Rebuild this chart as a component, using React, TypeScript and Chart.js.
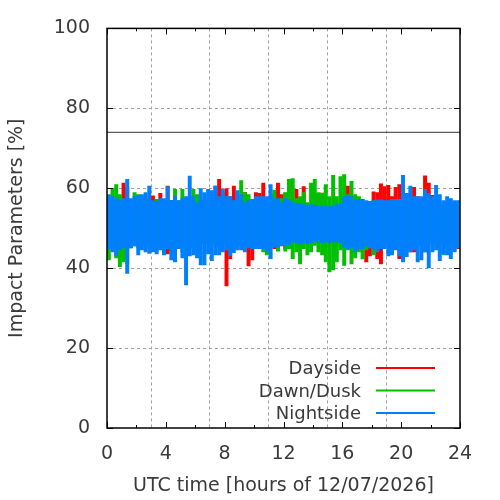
import React, { useEffect, useRef } from 'react';
import { Chart, registerables } from 'chart.js';

Chart.register(...registerables);

// 15-minute bins over the day; each bin keeps the min and max impact parameter seen
const binHours = 0.25;
const xTickStep = 2;
const yTickStep = 20;
const thresholdValue = 74;

const seriesNames = ['Dayside', 'Dawn/Dusk', 'Nightside'];
const seriesColours = ['#ff0000', '#00c000', '#0080ff'];

const daysideMax = [
  56, 56, 56, 56, 61.4, 60.3, 56, 56, 55.5, 56, 57.3, 56, 58.2, 57, 58.8, 57,
  60.6, 57, 56, 56, 56, 56, 56, 56, 56, 57, 57.3, 56, 57, 60.6, 62.3, 59,
  60, 58, 60.6, 56, 56, 59, 56, 56, 59, 58.8, 61.4, 57, 57, 58.5, 61.4, 58.5,
  58.9, 55.5, 55.5, 59.8, 55.5, 60.5, 55.5, 55.5, 58.5, 55.5, 58.9, 55.5, 55.5, 55.5, 55.5, 55.5,
  56, 60.6, 56, 56, 56, 56, 56, 56, 59.2, 59, 61.2, 60.5, 60.8, 58, 60.3, 61,
  58.9, 58.8, 57, 60.3, 58, 57.3, 63.2, 61.4, 58.3, 56, 56, 56, 56.5, 56, 56.5, 56,
];
const daysideMin = [
  46, 46, 46, 45, 42.5, 46.5, 45.8, 46, 45.8, 46.5, 46, 46, 46, 46, 46, 46,
  43.5, 44, 46, 46, 46, 46, 46, 45.5, 46, 46, 46, 46, 46, 45.5, 45.5, 46,
  35.5, 42.3, 45, 45.6, 45.5, 45.5, 40.5, 42, 45, 45.5, 45.5, 45.5, 45.5, 44.8, 45.2, 45.5,
  44.8, 46.5, 46.5, 46.5, 46.5, 46.5, 46.5, 46.5, 46.5, 46.5, 46.5, 46.5, 46.5, 46.5, 46.5, 46.5,
  46, 46, 46, 46, 46, 45.6, 41.5, 43, 45.6, 42.3, 41, 45.6, 46, 46, 45, 42.3,
  45.5, 45, 44, 44, 45.5, 46, 44, 46, 46.5, 46, 46, 46, 46, 46, 46, 44.8,
];

const dawnDuskMax = [
  57, 60, 61, 58.5, 57, 56, 57, 59, 58.5, 56, 56, 57.3, 56, 57.3, 56.5, 56,
  57, 57, 59.8, 57, 59.8, 57, 58, 59.8, 58.5, 56, 56, 56.5, 57, 57, 56, 56.5,
  56, 56, 56, 57, 62, 59, 58.5, 56, 56, 56, 56, 56.5, 58.5, 59.6, 57, 57.5,
  59, 62.3, 62.5, 57.5, 58, 59, 56.5, 61.4, 62.3, 59, 58.8, 61, 58, 63.3, 58, 63,
  63.5, 58.5, 61.8, 58.5, 58, 57.3, 56.5, 56.5, 57, 55.5, 56, 55.5, 55.5, 55.5, 56, 57,
  56, 56, 56, 56, 56, 56, 56, 56, 56, 56, 56, 56, 56, 56, 56.5, 56,
];
const dawnDuskMin = [
  42, 44.5, 42.5, 40.3, 41.5, 41, 45, 45.5, 45, 46, 46, 45, 46, 44.2, 45, 46,
  46, 45, 45, 45, 44, 42.3, 45, 45, 44.2, 46, 46, 46, 46, 46, 46, 46.5,
  46.5, 46, 45.5, 45.6, 45.5, 45.5, 45.5, 45.5, 45.5, 45.5, 44, 43.2, 45.5, 45.5, 44.2, 45.6,
  44.2, 44.8, 42.3, 44, 41, 44.8, 43.2, 44, 45.6, 44, 43.2, 41.5, 39, 39.5, 41.5, 44.5,
  40.6, 44.5, 41, 42.5, 44, 42.2, 44.5, 45, 43.2, 44.5, 44.8, 46, 46, 46, 46, 45.5,
  46, 46, 46.5, 46, 46, 46, 46, 46, 46, 46, 46, 43.2, 46, 46, 44.2, 45.5,
];

const nightsideMax = [
  58.5, 58, 57.5, 57, 57.5, 62.3, 57.5, 58, 58.3, 58.5, 59, 60.6, 57, 56.8, 57.5, 57.5,
  60.5, 57, 58, 57, 57.5, 58, 63.1, 58, 56.5, 60, 59, 59.8, 59.5, 60.6, 58, 59.8,
  58, 58, 57, 59.5, 58.5, 56.5, 57, 57.3, 58, 58, 58, 58, 61, 57.5, 57.5, 56.5,
  57.5, 57.3, 56.5, 56.3, 56.2, 56, 55.8, 56, 55.8, 55.6, 55.5, 55.6, 55.5, 55.6, 56, 56.2,
  58, 58.2, 58, 57.3, 57.3, 57.3, 57, 56.8, 57, 57.2, 57.2, 57, 57, 57.3, 57.3, 57.3,
  63.3, 58.8, 60.6, 58, 58, 58, 59.8, 58.8, 58, 60.8, 58.5, 57, 58, 57.5, 57, 57,
];
const nightsideMin = [
  44.8, 44, 43, 44.5, 45, 38.6, 45, 45.5, 43.2, 44.5, 44, 43.6, 44, 43.5, 44.5, 43.2,
  44.8, 42, 41.5, 44.8, 42.5, 35.7, 43, 43.2, 42.5, 40.7, 40.7, 43.5, 41.8, 43.2, 43.2, 44,
  44.5, 43, 43.8, 44.5, 44.5, 44, 45, 44.8, 44.8, 44.8, 44.8, 44, 42.3, 45.2, 45.2, 45.6,
  45.5, 45.8, 46.5, 46.3, 46, 46.2, 46, 46.3, 46.5, 46.5, 46.3, 46.5, 46.2, 46.4, 46.5, 46.3,
  45, 44.8, 45, 44, 44.8, 44.8, 45.5, 45, 44.5, 44, 44.8, 44.8, 43, 43.2, 44.5, 43,
  41.5, 42.8, 44, 44.5, 41.5, 42, 44, 40, 44, 44.5, 41.8, 43.5, 43.2, 42.3, 44, 45,
];

const seriesMin = [daysideMin, dawnDuskMin, nightsideMin];
const seriesMax = [daysideMax, dawnDuskMax, nightsideMax];

const textColour = '#3a3a3a';
const gridColour = '#a0a0a0';
const fontFamily = '"DejaVu Sans", sans-serif';
const axisFont = { family: fontFamily, size: 19 };

const frameAndLegend = {
  id: 'frameAndLegend',
  afterDraw(chart: any) {
    const { ctx, chartArea } = chart;
    const { left, right, top, bottom } = chartArea;
    const xs = chart.scales.x;
    const ys = chart.scales.y;
    ctx.save();
    ctx.strokeStyle = '#000';
    ctx.lineWidth = 1;
    ctx.beginPath();
    xs.ticks.forEach((t: any) => {
      const px = Math.round(xs.getPixelForValue(t.value)) + 0.5;
      const len = t.value % 4 === 0 ? 6 : 3;
      ctx.moveTo(px, bottom);
      ctx.lineTo(px, bottom - len);
      ctx.moveTo(px, top);
      ctx.lineTo(px, top + len);
    });
    ys.ticks.forEach((t: any) => {
      const py = Math.round(ys.getPixelForValue(t.value)) + 0.5;
      ctx.moveTo(left, py);
      ctx.lineTo(left + 6, py);
      ctx.moveTo(right, py);
      ctx.lineTo(right - 6, py);
    });
    ctx.stroke();
    ctx.lineWidth = 1.5;
    ctx.strokeRect(left, top, right - left, bottom - top);

    // legend sits inside the plot, bottom right, text first then the line sample
    ctx.font = `18px ${fontFamily}`;
    ctx.textAlign = 'right';
    ctx.textBaseline = 'alphabetic';
    seriesNames.forEach((name, i) => {
      const rowY = bottom - 60 + i * 22.5;
      ctx.fillStyle = textColour;
      ctx.fillText(name, right - 99, rowY + 6);
      ctx.strokeStyle = seriesColours[i];
      ctx.lineWidth = 2;
      ctx.beginPath();
      ctx.moveTo(right - 84, rowY);
      ctx.lineTo(right - 25, rowY);
      ctx.stroke();
    });
    ctx.restore();
  },
};

const App: React.FC = () => {
  const canvasRef = useRef<HTMLCanvasElement>(null);

  useEffect(() => {
    document.body.style.margin = '0';
    if (!canvasRef.current) return;

    const bands = seriesNames.map((name, s) => ({
      type: 'bar' as const,
      label: name,
      data: seriesMin[s].map((lo, i) => ({ x: (i + 0.5) * binHours, y: [lo, seriesMax[s][i]] })),
      backgroundColor: seriesColours[s],
      borderWidth: 0,
      grouped: false,
      categoryPercentage: 1,
      barPercentage: 1.08,
      order: 3 - s,
    }));

    const chart = new Chart(canvasRef.current, {
      type: 'bar',
      data: {
        datasets: [
          ...bands,
          {
            type: 'line' as const,
            label: 'threshold',
            data: [{ x: 0, y: thresholdValue }, { x: 24, y: thresholdValue }],
            borderColor: '#333',
            borderWidth: 1,
            pointRadius: 0,
            order: 0,
          },
        ] as any,
      },
      options: {
        animation: false,
        responsive: false,
        layout: { padding: { top: 27, right: 40, left: 0, bottom: 0 } },
        plugins: { legend: { display: false }, tooltip: { enabled: false } },
        scales: {
          x: {
            type: 'linear',
            min: 0,
            max: 24,
            offset: false,
            ticks: {
              stepSize: xTickStep,
              autoSkip: false,
              maxRotation: 0,
              padding: 15,
              color: textColour,
              font: axisFont,
              callback: (v: any) => (v % 4 === 0 ? String(v) : ''),
            },
            grid: {
              drawTicks: false,
              color: (c: any) =>
                c.tick && c.tick.value % 4 === 0 && c.tick.value > 0 && c.tick.value < 24 ? gridColour : 'rgba(0,0,0,0)',
            },
            border: { display: false, dash: [3, 3] },
            title: {
              display: true,
              text: 'UTC time [hours of 12/07/2026]',
              color: textColour,
              font: axisFont,
              padding: { top: 0, bottom: 3 },
            },
            afterFit: (s: any) => {
              s.height = 72;
            },
          },
          y: {
            min: 0,
            max: 100,
            ticks: { stepSize: yTickStep, padding: 17, color: textColour, font: axisFont },
            grid: {
              drawTicks: false,
              color: (c: any) =>
                c.tick && c.tick.value > 0 && c.tick.value < 100 ? gridColour : 'rgba(0,0,0,0)',
            },
            border: { display: false, dash: [3, 3] },
            title: {
              display: true,
              text: 'Impact Parameters [%]',
              color: textColour,
              font: axisFont,
              padding: { top: 6, bottom: 0 },
            },
            afterFit: (s: any) => {
              s.width = 107;
            },
          },
        },
      },
      plugins: [frameAndLegend],
    });

    return () => {
      chart.destroy();
    };
  }, []);

  return (
    <div style={{ width: 500, height: 500 }}>
      <canvas ref={canvasRef} width={500} height={500} />
    </div>
  );
};

export default App;
